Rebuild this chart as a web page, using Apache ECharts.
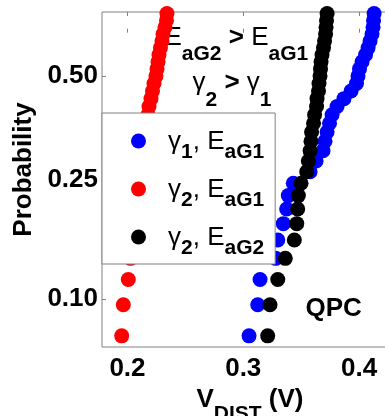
<!DOCTYPE html>
<html>
<head>
<meta charset="utf-8">
<script src="https://cdn.jsdelivr.net/npm/echarts@6/dist/echarts.min.js"></script>
<style>
  html, body { margin: 0; padding: 0; background: #fff; }
  #chart { width: 385px; height: 416px; }
</style>
</head>
<body>
<div id="chart"></div>
<script>
// Weibull probability plot of QPC distribution voltages for three gate settings.
// Each series lists sorted V_DIST values (V) for ranks firstRank .. firstRank+29
// out of sampleSize devices; plotting position is (rank - 0.5) / sampleSize.
const sampleSize = 47;
const firstRank = 4;

const vBlue = [ // γ1, EaG1
  0.3050, 0.3125, 0.3145, 0.3280, 0.3298, 0.3346, 0.3375, 0.3389, 0.3432, 0.3577,
  0.3629, 0.3689, 0.3706, 0.3724, 0.3745, 0.3767, 0.3810, 0.3870, 0.3931, 0.3978,
  0.3991, 0.4004, 0.4026, 0.4056, 0.4078, 0.4095, 0.4112, 0.4121, 0.4125, 0.4130
];
const vRed = [ // γ2, EaG1
  0.1950, 0.1964, 0.2007, 0.2026, 0.2043, 0.2056, 0.2073, 0.2086, 0.2099, 0.2117,
  0.2125, 0.2138, 0.2151, 0.2160, 0.2168, 0.2177, 0.2186, 0.2203, 0.2216, 0.2229,
  0.2246, 0.2255, 0.2264, 0.2272, 0.2285, 0.2298, 0.2307, 0.2324, 0.2337, 0.2341
];
const vBlack = [ // γ2, EaG2
  0.3211, 0.3231, 0.3298, 0.3363, 0.3441, 0.3462, 0.3470, 0.3476, 0.3499, 0.3548,
  0.3562, 0.3577, 0.3585, 0.3590, 0.3607, 0.3616, 0.3633, 0.3637, 0.3650, 0.3654,
  0.3663, 0.3667, 0.3672, 0.3680, 0.3693, 0.3702, 0.3711, 0.3715, 0.3719, 0.3724
];

const seriesNames = ['γ1, EaG1', 'γ2, EaG1', 'γ2, EaG2'];
const seriesColors = ['#0000ff', '#ff0000', '#000000'];
const xTicks = [0.2, 0.3, 0.4];
const probTicks = [0.10, 0.25, 0.50];
const xRange = [0.178, 0.425];
const probRange = [0.068, 0.696];

// Weibull scale: w = ln(-ln(1 - F))
const weibull = p => Math.log(-Math.log(1 - p));
const invWeibull = w => 1 - Math.exp(-Math.exp(w));
const toPoints = vals => vals.map((v, k) => [v, weibull((firstRank + k - 0.5) / sampleSize)]);

const FONT = '"Liberation Sans", Arial, sans-serif';
const AXIS_GRAY = '#808080';

// Rich-text styles: main glyphs (m), bold operator (o) and lowered subscripts (s).
// Tokens are top-aligned with fixed heights; the top padding sets the drop.
function richSet(mainPad, subPad, mainBold) {
  return {
    m: { fontFamily: FONT, fontSize: 26, fontWeight: mainBold ? 'bold' : 'normal', color: '#000',
         verticalAlign: 'top', height: 26, padding: [mainPad, 0, 0, 0] },
    o: { fontFamily: FONT, fontSize: 26, fontWeight: 'bold', color: '#000',
         verticalAlign: 'top', height: 26, padding: [mainPad, 0, 0, 0] },
    s: { fontFamily: FONT, fontSize: 21, fontWeight: 'bold', color: '#000',
         verticalAlign: 'top', height: 21, padding: [subPad, 0, 0, 0] }
  };
}

// "γ1, EaG1" -> gamma with subscript, E with subscript
function legendRich(name) {
  const m = name.match(/^(γ)(\d), (E)(aG\d)$/);
  return '{m|' + m[1] + '}{s|' + m[2] + '}{m|, ' + m[3] + '}{s|' + m[4] + '}';
}

const chart = echarts.init(document.getElementById('chart'), null, { renderer: 'canvas' });

const tickStyle = { color: AXIS_GRAY, width: 1 };

chart.setOption({
  animation: false,
  backgroundColor: '#fff',
  grid: {
    left: 102, top: 12, width: 286, height: 335,
    outerBoundsMode: 'none', containLabel: false,
    show: true, borderColor: AXIS_GRAY, borderWidth: 1, backgroundColor: 'transparent'
  },
  xAxis: [
    {
      type: 'value', position: 'bottom', min: xRange[0], max: xRange[1],
      axisLine: { show: false },
      splitLine: { show: false },
      axisTick: { show: true, inside: true, length: 4, customValues: xTicks, lineStyle: tickStyle },
      axisLabel: {
        customValues: xTicks, formatter: v => v.toFixed(1), margin: 9,
        fontFamily: FONT, fontSize: 26, fontWeight: 'bold', color: '#000'
      },
      name: '{m|V}{s|DIST}{m| (V)}',
      nameLocation: 'middle', nameGap: 31,
      nameTextStyle: {
        padding: [0, 0, 0, 10],
        rich: richSet(0, 17, true)
      }
    },
    {
      type: 'value', position: 'top', min: xRange[0], max: xRange[1],
      axisLine: { show: false },
      splitLine: { show: false },
      axisTick: { show: true, inside: true, length: 4, customValues: xTicks, lineStyle: tickStyle },
      axisLabel: { show: false }
    }
  ],
  yAxis: {
    type: 'value', min: weibull(probRange[0]), max: weibull(probRange[1]),
    axisLine: { show: false },
    splitLine: { show: false },
    axisTick: { show: true, inside: true, length: 4, customValues: probTicks.map(weibull), lineStyle: tickStyle },
    axisLabel: {
      customValues: probTicks.map(weibull), formatter: w => invWeibull(w).toFixed(2), margin: 4,
      fontFamily: FONT, fontSize: 26, fontWeight: 'bold', color: '#000'
    },
    name: 'Probability',
    nameLocation: 'middle', nameGap: 62,
    nameTextStyle: { fontFamily: FONT, fontSize: 26, fontWeight: 'bold', color: '#000', padding: [0, 0, 0, 20] }
  },
  legend: {
    orient: 'vertical', left: 102, top: 113,
    padding: [16, 11, 5, 29], itemGap: 14,
    itemWidth: 15, itemHeight: 15, icon: 'circle',
    backgroundColor: '#fff', borderColor: AXIS_GRAY, borderWidth: 1, borderRadius: 0,
    selectedMode: false,
    data: seriesNames,
    formatter: legendRich,
    textStyle: { padding: [0, 0, 0, 17], rich: richSet(10, 23, false) }
  },
  graphic: [
    {
      type: 'text', x: 164.5, y: 24.5,
      style: { text: '{m|E}{s|aG2}{o| > }{m|E}{s|aG1}', align: 'left', verticalAlign: 'top',
               rich: richSet(0, 19, false) }
    },
    {
      type: 'text', x: 192.5, y: 70,
      style: { text: '{m|γ}{s|2}{o| > }{m|γ}{s|1}', align: 'left', verticalAlign: 'top',
               rich: richSet(0, 20, false) }
    },
    {
      type: 'text', x: 305.5, y: 296,
      style: { text: 'QPC', align: 'left', verticalAlign: 'top',
               fontFamily: FONT, fontSize: 26, fontWeight: 'bold', fill: '#000' }
    }
  ],
  series: [vBlue, vRed, vBlack].map((vals, k) => ({
    name: seriesNames[k],
    type: 'scatter',
    xAxisIndex: 0,
    symbol: 'circle',
    symbolSize: 15,
    itemStyle: { color: seriesColors[k], opacity: 1 },
    data: toPoints(vals)
  }))
});
</script>
</body>
</html>
